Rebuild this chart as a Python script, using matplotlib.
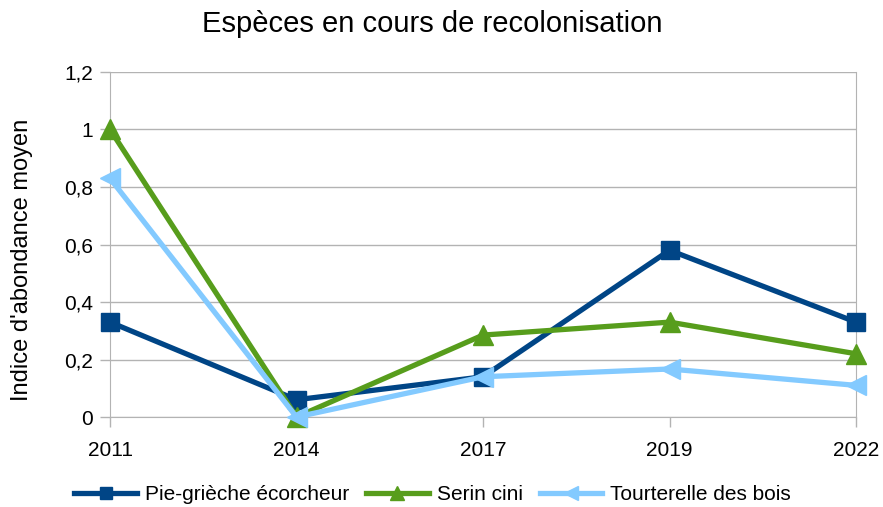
import matplotlib.pyplot as plt

plt.rcParams['font.family'] = ['Liberation Sans', 'DejaVu Sans']

years = ["2011", "2014", "2017", "2019", "2022"]
pie_grieche = [0.33, 0.06, 0.14, 0.58, 0.33]
serin_cini = [1.0, 0.0, 0.285, 0.33, 0.22]
tourterelle = [0.83, 0.0, 0.14, 0.167, 0.11]

fig = plt.figure(figsize=(8.83, 5.07), dpi=100)
ax = fig.add_axes([0.1246, 0.1775, 0.8449, 0.6805])

x = range(len(years))
ax.plot(x, pie_grieche, color="#004586", linewidth=3.8, marker="s", markersize=13,
        label="Pie-grièche écorcheur", clip_on=False, zorder=3)
ax.plot(x, serin_cini, color="#579d1c", linewidth=3.8, marker="^", markersize=14,
        label="Serin cini", clip_on=False, zorder=4)
ax.plot(x, tourterelle, color="#83caff", linewidth=3.8, marker="<", markersize=14,
        label="Tourterelle des bois", clip_on=False, zorder=5)

ax.set_xlim(0, len(years) - 1)
ax.set_ylim(0, 1.2)
ax.set_xticks(list(x))
ax.set_xticklabels(years)
ax.set_yticks([0, 0.2, 0.4, 0.6, 0.8, 1.0, 1.2])
ax.set_yticklabels(["0", "0,2", "0,4", "0,6", "0,8", "1", "1,2"])
ax.tick_params(axis="both", labelsize=15, color="#b3b3b3", length=7, width=1)
ax.tick_params(axis="y", pad=5)
ax.tick_params(axis="x", pad=10)
ax.grid(axis="y", color="#b3b3b3", linewidth=1)
ax.set_axisbelow(True)
for side in ["left", "right", "bottom"]:
    ax.spines[side].set_color("#b3b3b3")
ax.spines["top"].set_visible(False)

ax.set_ylabel("Indice d'abondance moyen", fontsize=17)
ax.yaxis.set_label_coords(-0.103, 0.455)
fig.suptitle("Espèces en cours de recolonisation", x=0.49, y=0.98, fontsize=21)

fig.legend(loc="lower center", bbox_to_anchor=(0.49, -0.032), ncol=3, frameon=False,
           fontsize=15, handlelength=3.0, columnspacing=0.8, handletextpad=0.4,
           markerscale=0.7)

fig.savefig("out.png", dpi=100)
